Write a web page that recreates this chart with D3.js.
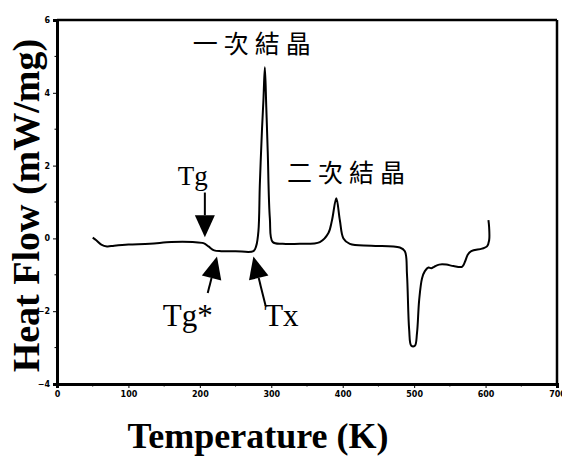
<!DOCTYPE html>
<html>
<head>
<meta charset="utf-8">
<script src="https://cdn.jsdelivr.net/npm/d3@7"></script>
<style>
  body { margin: 0; background: #fff; }
  svg { display: block; }
</style>
</head>
<body>
<div id="container"></div>
<script>
/* DATA */
const temps = [50, 55, 62, 70, 80, 100, 130, 160, 190, 205, 212, 220, 230, 250, 275, 279, 282,
  284, 287, 289, 291, 293, 295, 298, 302, 316, 340, 368, 380, 385, 391, 396, 401, 410, 440,
  480, 487, 490, 493, 496, 501, 504, 507, 511, 515, 520, 524, 528, 535, 545, 555, 567, 571,
  575, 580, 595, 602, 605, 605, 604]
const heatFlow = [0.02, -0.05, -0.17, -0.22, -0.2, -0.17, -0.15, -0.1, -0.1, -0.13, -0.22, -0.33,
  -0.35, -0.35, -0.35, -0.2, 0.2, 1.5, 3.0, 3.8, 4.7, 3.6, 2.4, 0.55, -0.1, -0.15, -0.15, -0.1,
  0.15, 0.5, 1.1, 0.5, 0.0, -0.15, -0.2, -0.25, -0.35, -1.0, -2.5, -2.95, -2.95, -2.6, -1.7,
  -1.1, -0.9, -0.8, -0.82, -0.78, -0.72, -0.72, -0.76, -0.78, -0.65, -0.45, -0.35, -0.28,
  -0.22, -0.05, 0.3, 0.5]
const xTicks = [0, 100, 200, 300, 400, 500, 600, 700]
const yTicks = [-4, -2, 0, 2, 4, 6]
const xTitle = "Temperature (K)"
const yTitle = "Heat Flow (mW/mg)"
const peakLabels = ["一次結晶", "二次結晶"]
const arrowLabels = ["Tg", "Tg*", "Tx"]

const data = temps.map((t, i) => ({ t: t, v: heatFlow[i] }))

/* CONSTANTS */
const width = 562, height = 456
const margin = { top: 20, right: 5, bottom: 72, left: 57 }

const svg = d3.select("#container").append("svg")
  .attr("width", width)
  .attr("height", height)

// + SCALES
const x = d3.scaleLinear().domain([0, 700]).range([margin.left, width - margin.right])
const y = d3.scaleLinear().domain([-4, 6]).range([height - margin.bottom, margin.top])

// AXES
const xAxis = svg.append("g")
  .attr("transform", `translate(0, ${y(-4)})`)
  .call(d3.axisBottom(x).tickValues(xTicks).tickSize(4).tickPadding(3))
xAxis.select(".domain").attr("stroke-width", 3)
xAxis.selectAll("text")
  .style("font-family", "DejaVu Sans")
  .style("font-weight", "bold")
  .style("font-size", "8px")

// minor x ticks
xAxis.selectAll(".minor")
  .data(d3.range(50, 700, 100))
  .join("line")
  .attr("class", "minor")
  .attr("x1", d => x(d)).attr("x2", d => x(d))
  .attr("y1", 0).attr("y2", 2.5)
  .attr("stroke", "#000")

const yAxis = svg.append("g")
  .attr("transform", `translate(${x(0)}, 0)`)
  .call(d3.axisLeft(y).tickValues(yTicks).tickSize(4).tickPadding(3))
yAxis.select(".domain").attr("stroke-width", 3)
yAxis.selectAll("text")
  .style("font-family", "DejaVu Sans")
  .style("font-weight", "bold")
  .style("font-size", "8px")

yAxis.selectAll(".minor")
  .data(d3.range(-3, 6, 2))
  .join("line")
  .attr("class", "minor")
  .attr("x1", 0).attr("x2", -2.5)
  .attr("y1", d => y(d)).attr("y2", d => y(d))
  .attr("stroke", "#000")

// top and right frame
svg.append("line")
  .attr("x1", x(0)).attr("x2", x(700))
  .attr("y1", y(6)).attr("y2", y(6))
  .attr("stroke", "#000").attr("stroke-width", 2.5)
svg.append("line")
  .attr("x1", x(700)).attr("x2", x(700))
  .attr("y1", y(6)).attr("y2", y(-4))
  .attr("stroke", "#000").attr("stroke-width", 2.5)

// LINE
const lineGen = d3.line()
  .x(d => x(d.t))
  .y(d => y(d.v))
  .curve(d3.curveCatmullRom.alpha(0.5))

svg.append("path")
  .datum(data)
  .attr("fill", "none")
  .attr("stroke", "#000")
  .attr("stroke-width", 2)
  .attr("stroke-linejoin", "round")
  .attr("d", lineGen)

// ARROWS (tail -> tip, in data coords)
function arrow(t0, v0, t1, v1) {
  const x0 = x(t0), y0 = y(v0), x1 = x(t1), y1 = y(v1)
  const ang = Math.atan2(y1 - y0, x1 - x0)
  const len = 22, half = 10
  const bx = x1 - len * Math.cos(ang), by = y1 - len * Math.sin(ang)
  svg.append("line")
    .attr("x1", x0).attr("y1", y0).attr("x2", bx).attr("y2", by)
    .attr("stroke", "#000").attr("stroke-width", 2)
  const pts = [
    [x1, y1],
    [bx + half * Math.sin(ang), by - half * Math.cos(ang)],
    [bx - half * Math.sin(ang), by + half * Math.cos(ang)]
  ]
  svg.append("path").attr("d", d3.line()(pts) + "Z").attr("fill", "#000")
}
arrow(207, 1.26, 207, 0.03)
arrow(211, -1.5, 224, -0.5)
arrow(292, -1.85, 275, -0.5)

// annotation text
const serif = "Liberation Serif"
svg.append("text").attr("x", x(169)).attr("y", y(1.48))
  .style("font-family", serif).style("font-size", "27px").text(arrowLabels[0])
svg.append("text").attr("x", x(148)).attr("y", y(-2.4))
  .style("font-family", serif).style("font-size", "31px").text(arrowLabels[1])
svg.append("text").attr("x", x(290)).attr("y", y(-2.4))
  .style("font-family", serif).style("font-size", "31px").text(arrowLabels[2])

const cjk = "Noto Sans CJK TC"
svg.append("text").attr("x", x(190)).attr("y", y(5.1))
  .style("font-family", cjk).style("font-size", "25px").style("letter-spacing", "6px")
  .text(peakLabels[0])
svg.append("text").attr("x", x(322)).attr("y", y(1.55))
  .style("font-family", cjk).style("font-size", "25px").style("letter-spacing", "6px")
  .text(peakLabels[1])

// TITLES
svg.append("text")
  .attr("transform", `translate(${width / 2 - 23}, ${height - 8})`)
  .style("text-anchor", "middle")
  .style("font-family", serif).style("font-weight", "bold").style("font-size", "36px")
  .text(xTitle)

svg.append("text")
  .attr("transform", `translate(39, ${y(0.9)}) rotate(-90)`)
  .style("text-anchor", "middle")
  .style("font-family", serif).style("font-weight", "bold").style("font-size", "38px")
  .text(yTitle)
</script>
</body>
</html>
